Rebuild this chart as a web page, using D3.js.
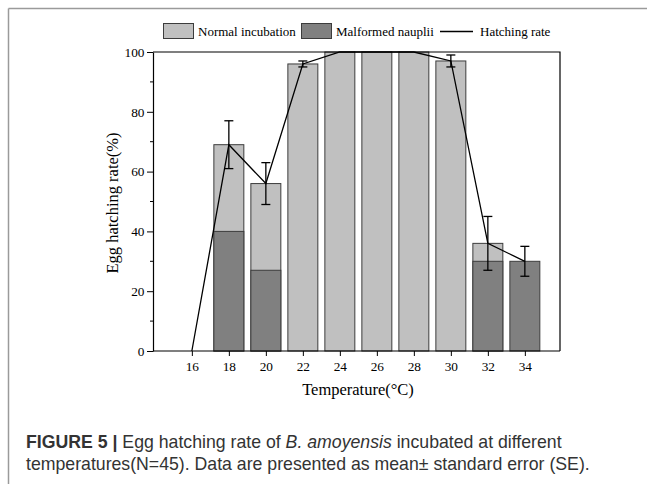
<!DOCTYPE html>
<html>
<head>
<meta charset="utf-8">
<script src="https://cdn.jsdelivr.net/npm/d3@7"></script>
<style>
  body { margin: 0; background: #fff; }
  svg { display: block; }
  .serif { font-family: "Liberation Serif", "Times New Roman", serif; }
</style>
</head>
<body>
<script>
const w = 647, h = 484;

// data
const temps = [16, 18, 20, 22, 24, 26, 28, 30, 32, 34];
const normalTotal = [0, 69, 56, 96, 100, 100, 100, 97, 36, 0];
const malformed = [0, 40, 27, 0, 0, 0, 0, 0, 30, 30];
const hatchRate = [0, 69, 56, 96, 100, 100, 100, 97, 36, 30];
const hatchSE = [0, 8, 7, 1, 0, 0, 0, 2, 9, 5];
const yTicks = [0, 20, 40, 60, 80, 100];

const svg = d3.select("body").append("svg").attr("width", w).attr("height", h);

// page frame lines
svg.append("line").attr("x1", 8.5).attr("x2", w).attr("y1", 8.5).attr("y2", 8.5)
   .attr("stroke", "#9a9a9a").attr("stroke-width", 1.5);
svg.append("line").attr("x1", 8.5).attr("x2", 8.5).attr("y1", 8.5).attr("y2", h)
   .attr("stroke", "#9a9a9a").attr("stroke-width", 1.5);

const pLeft = 153, pRight = 560, pTop = 52, pBottom = 351;
const x = d3.scaleLinear().domain([13.9, 35.9]).range([pLeft, pRight]);
const y = d3.scaleLinear().domain([0, 100]).range([pBottom, pTop]);
const bw = x(1.62) - x(0);

const plot = svg.append("g");

// bars: normal (total) first, then malformed on top
plot.selectAll("rect.normal")
  .data(temps.map((t, i) => ({ t, v: normalTotal[i] })).filter(d => d.v > 0))
  .enter().append("rect")
  .attr("class", "normal")
  .attr("x", d => x(d.t) - bw / 2)
  .attr("width", bw)
  .attr("y", d => y(d.v))
  .attr("height", d => y(0) - y(d.v))
  .attr("fill", "#c0c0c0")
  .attr("stroke", "#3c3c3c")
  .attr("stroke-width", 1);

plot.selectAll("rect.malformed")
  .data(temps.map((t, i) => ({ t, v: malformed[i] })).filter(d => d.v > 0))
  .enter().append("rect")
  .attr("class", "malformed")
  .attr("x", d => x(d.t) - bw / 2)
  .attr("width", bw)
  .attr("y", d => y(d.v))
  .attr("height", d => y(0) - y(d.v))
  .attr("fill", "#808080")
  .attr("stroke", "#3c3c3c")
  .attr("stroke-width", 1);

// hatching rate line
const line = d3.line().x((d, i) => x(temps[i])).y(d => y(d));
plot.append("path").datum(hatchRate)
  .attr("d", line).attr("fill", "none")
  .attr("stroke", "#000").attr("stroke-width", 1.3);

// error bars
const eb = temps.map((t, i) => ({ t, m: hatchRate[i], se: hatchSE[i] })).filter(d => d.se > 0);
const ebg = plot.selectAll("g.eb").data(eb).enter().append("g")
  .attr("stroke", "#000").attr("stroke-width", 1.3);
ebg.append("line").attr("x1", d => x(d.t)).attr("x2", d => x(d.t))
  .attr("y1", d => y(d.m - d.se)).attr("y2", d => y(d.m + d.se));
ebg.append("line").attr("x1", d => x(d.t) - 4.5).attr("x2", d => x(d.t) + 4.5)
  .attr("y1", d => y(d.m + d.se)).attr("y2", d => y(d.m + d.se));
ebg.append("line").attr("x1", d => x(d.t) - 4.5).attr("x2", d => x(d.t) + 4.5)
  .attr("y1", d => y(d.m - d.se)).attr("y2", d => y(d.m - d.se));

// frame top + right
svg.append("path")
  .attr("d", `M${pLeft},${pTop}H${pRight}V${pBottom}`)
  .attr("fill", "none").attr("stroke", "#000").attr("stroke-width", 1.2);

// axes
const xAxis = svg.append("g").attr("class", "serif")
  .attr("transform", `translate(0,${pBottom})`)
  .call(d3.axisBottom(x).tickValues(temps).tickSize(5).tickPadding(6).tickSizeOuter(0));
const yAxis = svg.append("g").attr("class", "serif")
  .attr("transform", `translate(${pLeft},0)`)
  .call(d3.axisLeft(y).tickValues(yTicks).tickSize(6).tickPadding(2.5).tickSizeOuter(0));
// minor y ticks
svg.append("g").attr("transform", `translate(${pLeft},0)`)
  .selectAll("line").data(d3.range(10, 100, 20)).enter().append("line")
  .attr("x1", -3).attr("x2", 0).attr("y1", d => y(d)).attr("y2", d => y(d))
  .attr("stroke", "#000");

[xAxis, yAxis].forEach(a => {
  a.selectAll("text").attr("font-family", "Liberation Serif").attr("font-size", 13.3).attr("fill", "#000");
  a.select(".domain").attr("stroke-width", 1.2);
});
xAxis.select(".domain").attr("d", `M${pLeft},0H${pRight}`);

svg.append("text").attr("class", "serif")
  .attr("x", 358).attr("y", 395).attr("text-anchor", "middle")
  .attr("font-size", 16.5).text("Temperature(°C)");
svg.append("text").attr("class", "serif")
  .attr("transform", `translate(118,203) rotate(-90)`)
  .attr("text-anchor", "middle")
  .attr("font-size", 16.5).text("Egg hatching rate(%)");

// legend
const lg = svg.append("g").attr("class", "serif").attr("font-size", 13);
lg.append("rect").attr("x", 163.5).attr("y", 23.5).attr("width", 30).attr("height", 15)
  .attr("fill", "#c0c0c0").attr("stroke", "#3c3c3c");
lg.append("text").attr("x", 198).attr("y", 36).text("Normal incubation");
lg.append("rect").attr("x", 301.5).attr("y", 23.5).attr("width", 30).attr("height", 15)
  .attr("fill", "#808080").attr("stroke", "#3c3c3c");
lg.append("text").attr("x", 336).attr("y", 36).text("Malformed nauplii");
lg.append("line").attr("x1", 440).attr("x2", 473).attr("y1", 31.5).attr("y2", 31.5)
  .attr("stroke", "#000").attr("stroke-width", 1.3);
lg.append("text").attr("x", 480).attr("y", 36).text("Hatching rate");

// caption
const cap = svg.append("g").attr("font-family", "Liberation Sans, sans-serif")
  .attr("font-size", 17.7).attr("fill", "#333");
const t1 = cap.append("text").attr("x", 26).attr("y", 448);
t1.append("tspan").attr("font-weight", "bold").text("FIGURE 5 | ");
t1.append("tspan").text("Egg hatching rate of ");
t1.append("tspan").attr("font-style", "italic").text("B. amoyensis");
t1.append("tspan").text(" incubated at different");
cap.append("text").attr("x", 26).attr("y", 470)
  .text("temperatures(N=45). Data are presented as mean\u00b1 standard error (SE).");
</script>
</body>
</html>
